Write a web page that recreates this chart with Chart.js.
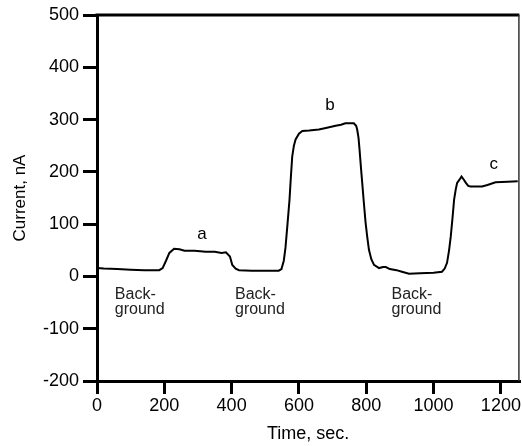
<!DOCTYPE html>
<html>
<head>
<meta charset="utf-8">
<script src="https://cdn.jsdelivr.net/npm/chart.js@4.4.0/dist/chart.umd.min.js"></script>
<style>
  html, body { margin: 0; padding: 0; background: #fff; }
  #wrap { width: 522px; height: 446px; }
</style>
</head>
<body>
<div id="wrap"><canvas id="grafico"></canvas></div>
<script>
// datos (tiempo en s, corriente en nA)
var tiempo = [0, 20, 60, 100, 140, 185, 195, 205, 215, 229, 245, 260, 290, 323, 350, 370, 383, 395, 402, 412, 422, 460, 500, 540,
  548, 555, 560, 566, 572, 576, 580, 585, 590, 600, 610, 630, 659, 680, 709, 725, 738, 763, 770, 773, 777, 780, 784, 788,
  793, 798, 803, 808, 815, 823, 838, 850, 858, 870, 890, 906, 927, 960, 1000, 1025, 1033, 1040, 1046, 1051, 1056, 1061,
  1066, 1070, 1078, 1083, 1090, 1096, 1103, 1110, 1144, 1160, 1184, 1220, 1250];
var corriente = [16, 15, 14, 13, 12, 12, 16, 30, 45, 53, 52, 49, 49, 47, 47, 45, 46, 38, 22, 15, 12, 11, 11, 11,
  14, 30, 55, 100, 147, 190, 229, 250, 262, 273, 278, 279, 281, 284, 288, 290, 293, 293, 288, 281, 265, 243, 210, 179,
  140, 103, 75, 51, 33, 22, 16, 18, 18, 14, 12, 9, 5, 6, 7, 9, 15, 26, 50, 76, 110, 147,
  167, 179, 186, 191, 185, 179, 173, 172, 172, 175, 180, 181, 182];

var ticksX = [0, 200, 400, 600, 800, 1000, 1200];
var ticksY = [-200, -100, 0, 100, 200, 300, 400, 500];

// textos sobre la curva: [x, y, texto]
var etiquetas = [
  [312, 80, "a"],
  [692, 327, "b"],
  [1179, 214, "c"]
];
var fondos = [53, 410, 875];

var fuente = "'Liberation Sans', Arial, sans-serif";

var puntos = tiempo.map(function (t, i) { return { x: t, y: corriente[i] }; });

var textos = {
  id: "textos",
  afterDatasetsDraw: function (chart) {
    var ctx = chart.ctx;
    var sx = chart.scales.x, sy = chart.scales.y;
    var area = chart.chartArea;
    ctx.save();
    // marco superior y derecho
    ctx.strokeStyle = "#000";
    ctx.lineWidth = 3;
    ctx.beginPath();
    ctx.moveTo(area.left - 1.5, area.top);
    ctx.lineTo(area.right, area.top);
    ctx.stroke();
    ctx.strokeStyle = "#333";
    ctx.lineWidth = 1.5;
    ctx.beginPath();
    ctx.moveTo(area.right - 0.5, area.top);
    ctx.lineTo(area.right - 0.5, area.bottom);
    ctx.stroke();

    ctx.fillStyle = "#000";
    ctx.textAlign = "center";
    ctx.textBaseline = "middle";
    ctx.font = "17px " + fuente;
    etiquetas.forEach(function (e) {
      ctx.fillText(e[2], sx.getPixelForValue(e[0]), sy.getPixelForValue(e[1]));
    });

    ctx.fillStyle = "#222";
    ctx.textAlign = "left";
    ctx.font = "16px " + fuente;
    fondos.forEach(function (f) {
      var px = sx.getPixelForValue(f);
      var py = sy.getPixelForValue(-34);
      ctx.fillText("Back-", px, py);
      ctx.fillText("ground", px, py + 15);
    });
    ctx.restore();
  }
};

new Chart(document.getElementById("grafico"), {
  type: "scatter",
  data: {
    datasets: [{
      data: puntos,
      showLine: true,
      borderColor: "#000",
      borderWidth: 2,
      pointRadius: 0,
      tension: 0
    }]
  },
  options: {
    responsive: true,
    maintainAspectRatio: false,
    animation: false,
    layout: { padding: { top: 15, right: 2, left: 0, bottom: 0 } },
    plugins: { legend: { display: false }, tooltip: { enabled: false } },
    scales: {
      x: {
        type: "linear",
        min: 0,
        max: 1255,
        afterBuildTicks: function (s) { s.ticks = ticksX.map(function (v) { return { value: v }; }); },
        afterFit: function (s) { s.height = 65; },
        border: { color: "#000", width: 3 },
        grid: { drawOnChartArea: false, color: "#000", lineWidth: 3, tickLength: 13 },
        ticks: { color: "#000", font: { family: fuente, size: 18 }, padding: 1, maxRotation: 0,
          callback: function (v) { return String(v); } },
        title: { display: true, text: "Time, sec.", color: "#000", font: { family: fuente, size: 18 }, padding: { top: 0, bottom: 1 } }
      },
      y: {
        min: -200,
        max: 500,
        afterBuildTicks: function (s) { s.ticks = ticksY.map(function (v) { return { value: v }; }); },
        afterFit: function (s) { s.width = 97; },
        border: { color: "#000", width: 3 },
        grid: { drawOnChartArea: false, color: "#000", lineWidth: 3, tickLength: 14 },
        ticks: { color: "#000", font: { family: fuente, size: 18 }, padding: 4,
          callback: function (v) { return String(v); } },
        title: { display: true, text: "Current, nA", color: "#000", font: { family: fuente, size: 17 }, padding: { top: 10, bottom: 0 } }
      }
    }
  },
  plugins: [textos]
});
</script>
</body>
</html>
